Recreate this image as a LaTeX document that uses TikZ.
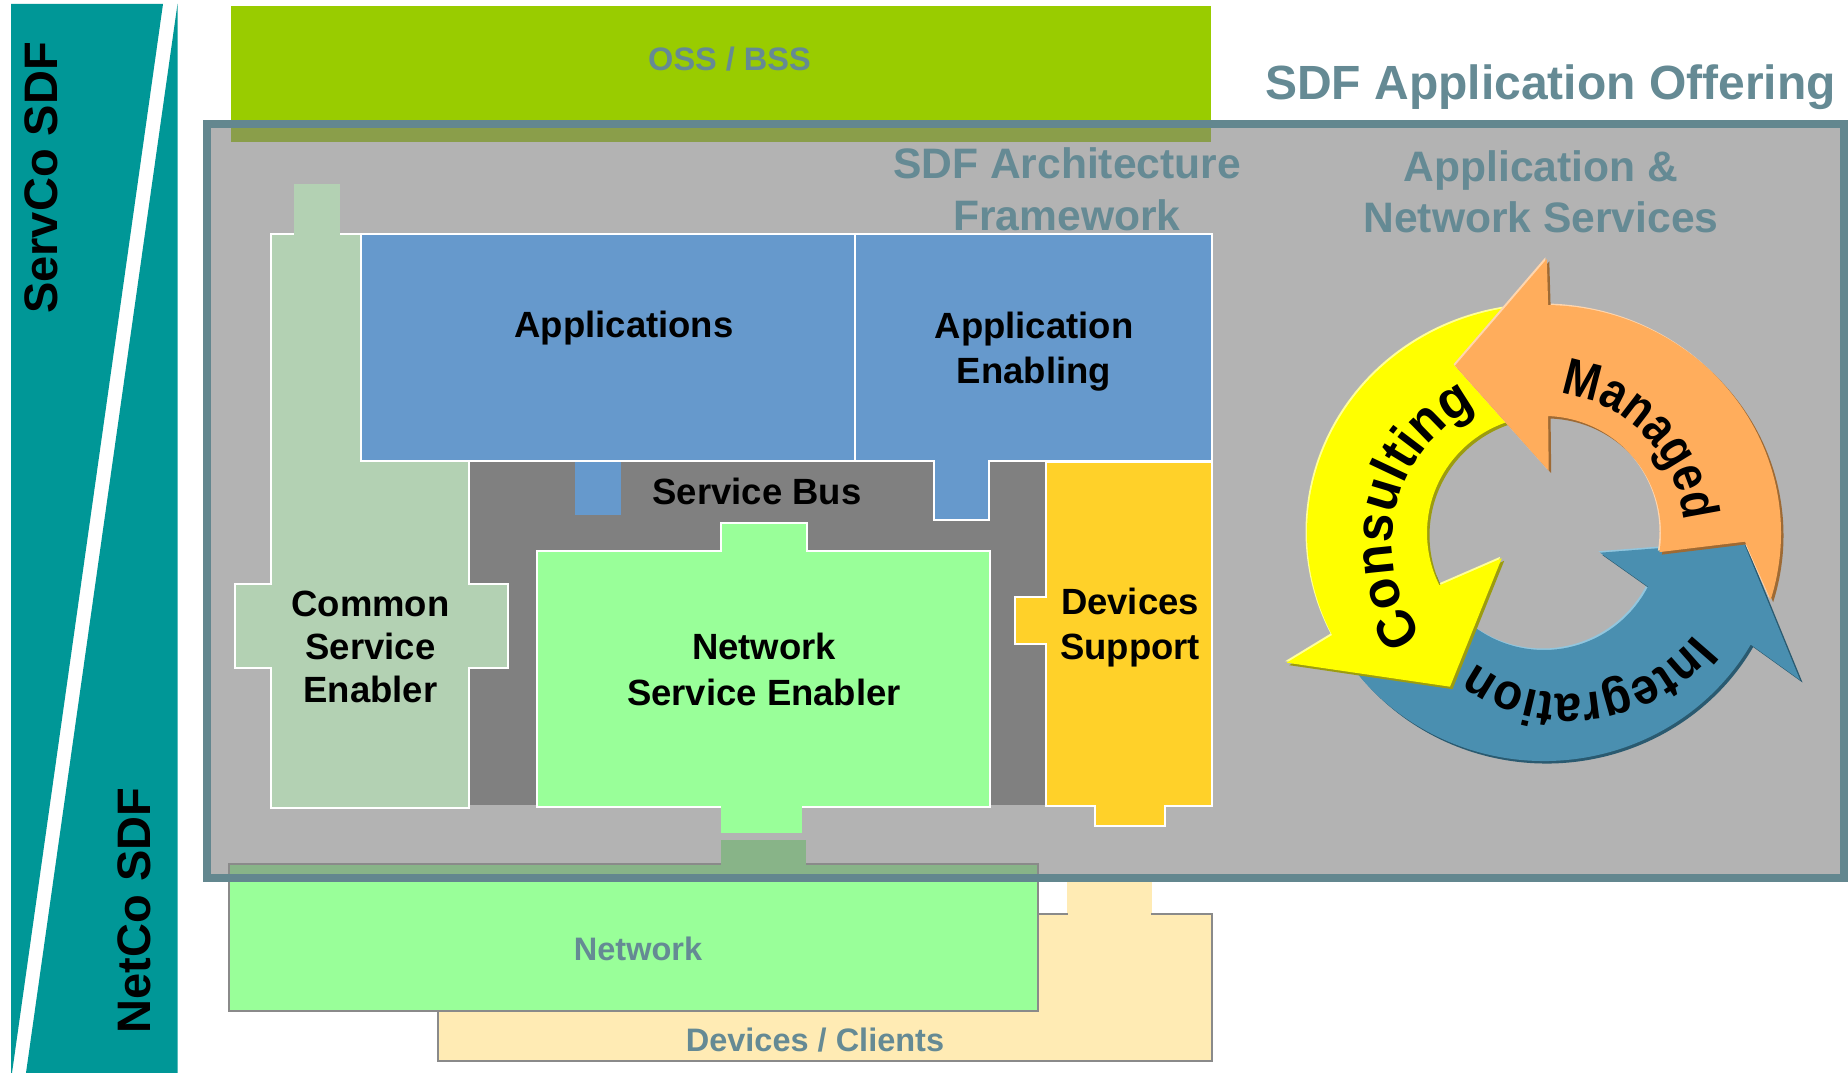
\documentclass[tikz,border=0pt]{standalone}
\usepackage{fontspec}
\setmainfont{Liberation Sans}
\newfontfamily\managedfont[FakeStretch=0.85]{Liberation Sans}
\newfontfamily\consultfont[FakeStretch=0.95]{Liberation Sans}
\newfontfamily\integfont[FakeStretch=0.93]{Liberation Sans}
\usetikzlibrary{decorations.text}
\definecolor{teal}{HTML}{009797}
\definecolor{ossgreen}{HTML}{99CC00}
\definecolor{olive}{HTML}{8A9E4A}
\definecolor{boxgray}{HTML}{B3B3B3}
\definecolor{bordergb}{HTML}{63878F}
\definecolor{gbtext}{HTML}{658A94}
\definecolor{csegreen}{HTML}{B3D1B3}
\definecolor{appblue}{HTML}{6699CC}
\definecolor{busgray}{HTML}{808080}
\definecolor{nsegreen}{HTML}{99FF99}
\definecolor{dsyellow}{HTML}{FFD129}
\definecolor{netmix}{HTML}{88B488}
\definecolor{dccream}{HTML}{FFEBB4}
\definecolor{outlinegray}{HTML}{8A8A8A}
\definecolor{arrY}{HTML}{FFFF00}
\definecolor{arrYsh}{HTML}{9C9C10}
\definecolor{arrYhl}{HTML}{FFFF99}
\definecolor{arrO}{HTML}{FFAD5C}
\definecolor{arrOsh}{HTML}{9E6A34}
\definecolor{arrOhl}{HTML}{FFD6AE}
\definecolor{arrB}{HTML}{4A8FB0}
\definecolor{arrBsh}{HTML}{2A5A70}
\definecolor{arrBhl}{HTML}{92C6DE}
\newcommand\bluearrow[1]{\fill[#1] (200:237 and 228) arc[start angle=200,end angle=330.7,x radius=237,y radius=228] -- (256,-147) -- (199.3,-8.7) -- (56,-19.7) -- (332.7:117) arc[start angle=332.7,end angle=200,radius=117] -- cycle;}
\newcommand\yellowarrow[1]{\fill[#1] (95:237 and 228) arc[start angle=95,end angle=206.6,x radius=237,y radius=228] -- (-257.3,-129.7) -- (-94,-153.7) -- (-42.3,-25.3) -- (206.6:117) arc[start angle=206.6,end angle=95,radius=117] -- cycle;}
\newcommand\orangearrow[1]{\fill[#1] (-17:237 and 228) arc[start angle=-17,end angle=89,x radius=237,y radius=228] -- (2.8,274.1) -- (-89,167.3) -- (4.7,62.3) -- (88:117) arc[start angle=88,end angle=-9.4,radius=117] -- (201,-8.7) -- cycle;}
\begin{document}
\begin{tikzpicture}[x=1pt,y=1pt,
  blacklbl/.style={anchor=base,inner sep=0pt,text=black,font={\fontsize{36.5}{40}\selectfont\bfseries}},
  titlelbl/.style={anchor=base,inner sep=0pt,text=gbtext,font={\fontsize{42.6}{48}\selectfont\bfseries}},
  layerlbl/.style={anchor=base,inner sep=0pt,text=gbtext,font={\fontsize{32.5}{36}\selectfont\bfseries}},
  sidelbl/.style={rotate=90,inner sep=0pt,text=black,font={\fontsize{47}{50}\selectfont\bfseries}},
  whiteline/.style={draw=white,line width=2pt},
  grayline/.style={draw=outlinegray,line width=2pt}]
\useasboundingbox (0,0) rectangle (1848,1073);
\fill[white] (0,0) rectangle (1848,1073);
% left band
\fill[teal] (11,1069) -- (163,1069) -- (12,0) -- (11,0) -- cycle;
\fill[teal] (177.5,1069) -- (177.5,0) -- (26,0) -- cycle;
\node[sidelbl] (servco) at (41.5,895) {ServCo SDF};
\node[sidelbl] (netco) at (134.4,162.6) {NetCo SDF};
% OSS/BSS
\fill[ossgreen] (230.5,1067) rectangle (1211,931);
% Devices / Clients
\fill[dccream] (1067,159) rectangle (1152,200);
\filldraw[fill=dccream,grayline] (437.7,12) rectangle (1212,159);
\fill[dccream] (1068,156) rectangle (1151,162);
% gray offering box
\fill[boxgray] (207,949) rectangle (1844,195);
\fill[olive] (230.5,949) rectangle (1211,931);
% service bus
\fill[busgray] (469,612) rectangle (1046,268);
% common service enabler
\filldraw[fill=csegreen,whiteline] (271,839) -- (360.6,839) -- (360.6,612) -- (469,612) -- (469,489.3) -- (508,489.3) -- (508,404.5) -- (469,404.5) -- (469,265) -- (271,265) -- (271,404.5) -- (235,404.5) -- (235,489.3) -- (271,489.3) -- cycle;
\fill[csegreen] (294,837.8) rectangle (340,889);
% applications
\fill[appblue] (574.5,613) rectangle (621,558);
\filldraw[fill=appblue,whiteline] (360.6,839) rectangle (855,612);
\filldraw[fill=appblue,whiteline] (855,839) -- (1212,839) -- (1212,612) -- (988.5,612) -- (988.5,553) -- (934,553) -- (934,612) -- (855,612) -- cycle;
% network service enabler
\filldraw[fill=nsegreen,whiteline] (537,522.3) -- (720.8,522.3) -- (720.8,549.7) -- (807,549.7) -- (807,522.3) -- (989.5,522.3) -- (989.5,266.3) -- (537,266.3) -- cycle;
\fill[nsegreen] (720.8,267.3) rectangle (802,240.3);
% devices support
\filldraw[fill=dsyellow,whiteline] (1046,610.5) -- (1212,610.5) -- (1212,267.3) -- (1164.5,267.3) -- (1164.5,246.5) -- (1094.7,246.5) -- (1094.7,267.3) -- (1046,267.3) -- (1046,429) -- (1015,429) -- (1015,476.3) -- (1046,476.3) -- cycle;
% network layer
\filldraw[fill=nsegreen,grayline] (229,209) rectangle (1037.6,62.4);
\fill[netmix] (230,208) rectangle (1036.6,195);
\fill[netmix] (720.8,233) rectangle (806,207);
% border of offering box
\draw[bordergb,line width=8pt] (207,949) rectangle (1844,195);
% cycle of arrows
\begin{scope}[shift={(1544,540)}]
\bluearrow{arrBhl,xshift=-1.5pt,yshift=1.5pt}
\bluearrow{arrBsh,xshift=2.5pt,yshift=-2.5pt}
\bluearrow{arrB}
\yellowarrow{arrYhl,xshift=-1.5pt,yshift=1.5pt}
\yellowarrow{arrYsh,xshift=2.5pt,yshift=-2.5pt}
\yellowarrow{arrY}
\orangearrow{arrOhl,xshift=-1.5pt,yshift=1.5pt}
\orangearrow{arrOsh,xshift=2.5pt,yshift=-2.5pt}
\orangearrow{arrO}
\path[decorate,decoration={text along path,text align=center,text={|\managedfont\fontsize{52}{52}\selectfont\bfseries|Managed}}] (134:140) arc[start angle=134,end angle=-46,radius=140];
\end{scope}
\begin{scope}[shift={(1544,529.5)}]
\path[decorate,decoration={text along path,text align=center,text={|\consultfont\fontsize{54}{54}\selectfont\bfseries|Consulting}}] (257:152) arc[start angle=257,end angle=77,radius=152];
\end{scope}
\begin{scope}[shift={(1570,539)}]
\path[decorate,decoration={text along path,text align=center,text={|\integfont\fontsize{51}{51}\selectfont\bfseries|Integration}}] (7.4:160) arc[start angle=7.4,end angle=-172.6,radius=160];
\end{scope}
% labels
\node[layerlbl] (oss) at (729.5,1002.4) {OSS / BSS};
\node[anchor=base,inner sep=0pt,text=gbtext,font={\fontsize{48}{52}\selectfont\bfseries}] (offering) at (1550.5,973) {SDF Application Offering};
\node[titlelbl] (arch1) at (1067,894) {SDF Architecture};
\node[titlelbl] (arch2) at (1067,842) {Framework};
\node[titlelbl] (ans1) at (1541,891) {Application \&};
\node[titlelbl] (ans2) at (1541,840) {Network Services};
\node[blacklbl] (apps) at (624,735.5) {Applications};
\node[blacklbl] (appen1) at (1034,734) {Application};
\node[blacklbl] (appen2) at (1034,689) {Enabling};
\node[blacklbl] (bus) at (757,568) {Service Bus};
\node[blacklbl] (cse1) at (370.5,456.4) {Common};
\node[blacklbl] (cse2) at (370.5,413) {Service};
\node[blacklbl] (cse3) at (370.5,370) {Enabler};
\node[blacklbl] (nse1) at (764,413) {Network};
\node[blacklbl] (nse2) at (764,367) {Service Enabler};
\node[blacklbl] (ds1) at (1130,458) {Devices};
\node[blacklbl] (ds2) at (1130,413) {Support};
\node[layerlbl] (net) at (638,112) {Network};
\node[layerlbl] (dc) at (815,21.3) {Devices / Clients};
\end{tikzpicture}
\end{document}
